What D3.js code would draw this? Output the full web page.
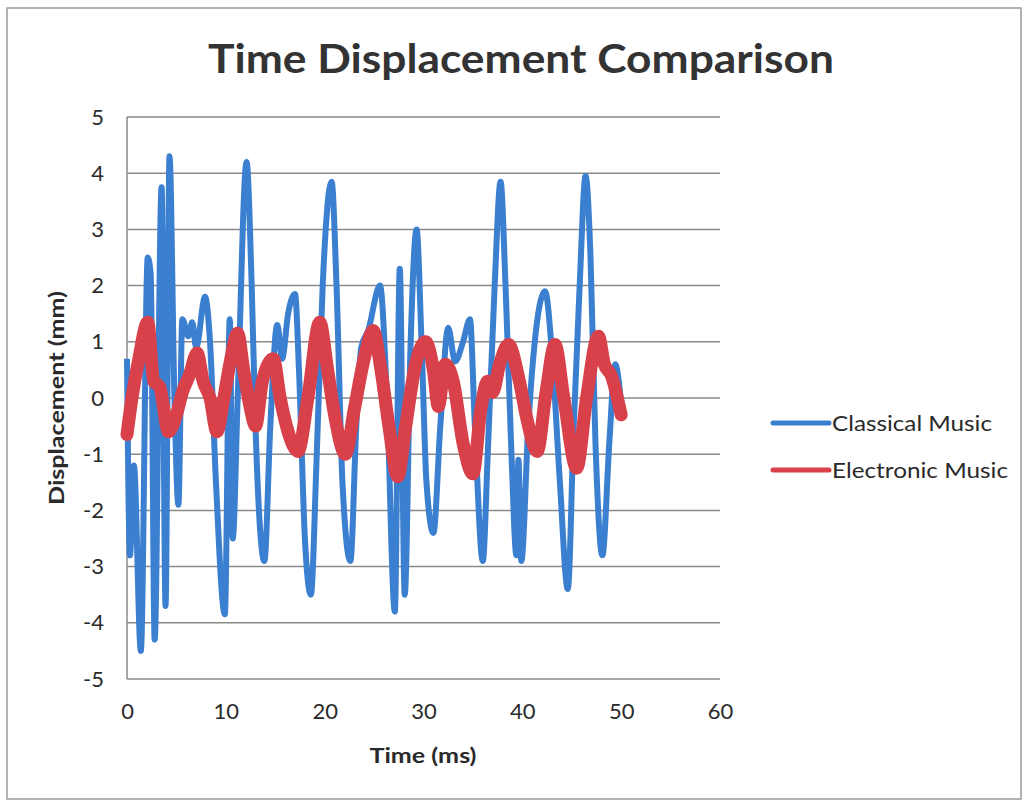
<!DOCTYPE html>
<html><head><meta charset="utf-8">
<script src="https://cdn.jsdelivr.net/npm/d3@7"></script>
<style>body{margin:0;background:#fff;} text{font-family:Lato,"Open Sans",sans-serif;fill:#2a2a2a;}</style>
</head><body>
<svg id="chart" width="1028" height="804"></svg>
<script>
const chartTitle = "Time Displacement Comparison";
const xAxisTitle = "Time (ms)";
const yAxisTitle = "Displacement (mm)";
const seriesNames = ["Classical Music", "Electronic Music"];
const xTicks = [0, 10, 20, 30, 40, 50, 60];
const yTicks = [-5, -4, -3, -2, -1, 0, 1, 2, 3, 4, 5];

const classicalTime = [0,0.3,0.7,1.4,2.1,2.4,2.8,3.5,3.9,4.3,4.8,5.2,5.6,6.2,6.6,7.0,7.9,8.4,9.0,9.9,10.4,10.7,11.2,12.1,12.6,13.0,13.9,14.5,15.2,15.7,16.3,17.0,17.4,18.0,18.6,19.2,19.8,20.7,21.2,21.8,22.6,23.2,23.7,24.4,25.6,26.3,27.1,27.6,28.1,28.7,29.3,29.8,30.3,31.0,31.7,32.5,33.2,34.0,34.7,35.2,36.0,36.5,37.2,37.8,38.3,38.9,39.4,39.6,39.9,40.6,41.2,42.3,43.0,43.8,44.6,45.2,45.8,46.4,46.9,47.4,48.1,48.8,49.4,50.0];
const classicalDisp = [0.7,-2.8,-1.2,-4.5,2.5,2.2,-4.3,3.75,-3.7,4.3,0.0,-1.9,1.4,1.1,1.35,0.9,1.8,1.0,-1.5,-3.85,1.4,-2.5,0.0,4.2,2.1,-0.5,-2.9,-0.5,1.3,0.7,1.5,1.85,0.5,-2.5,-3.5,-1.0,2.0,3.85,2.0,-1.5,-2.9,-0.5,0.9,1.2,2.0,0.0,-3.8,2.3,-3.5,1.0,3.0,1.0,-1.5,-2.4,-0.5,1.25,0.65,1.0,1.4,-0.5,-2.9,-1.0,2.0,3.85,2.0,-1.0,-2.8,-1.1,-2.9,-0.5,0.9,1.9,0.8,-1.5,-3.4,-0.5,2.0,3.95,2.5,-0.8,-2.8,-0.8,0.6,-0.1];

const electronicTime = [0,0.5,1.2,2.1,2.7,3.3,4.2,5.0,5.6,6.3,7.1,7.7,8.4,9.1,9.8,10.4,11.2,11.8,12.5,13.0,13.7,14.8,15.5,16.3,17.3,18.3,19.5,20.3,21.0,22.1,23.0,24.0,24.9,25.7,26.5,27.4,28.2,29.2,30.2,31.0,31.5,32.2,33.0,34.0,35.0,35.8,36.5,37.0,37.7,38.6,39.7,40.5,41.5,42.4,43.3,44.2,45.5,46.5,47.7,48.3,49.0,50.0];
const electronicDisp = [-0.65,0.0,0.7,1.35,0.3,0.2,-0.6,-0.3,0.1,0.4,0.8,0.3,0.0,-0.6,0.0,0.6,1.15,0.5,-0.2,-0.5,0.3,0.7,0.0,-0.6,-0.95,0.0,1.35,0.5,-0.3,-1.0,-0.2,0.7,1.2,0.5,-0.5,-1.4,-0.5,0.6,1.0,0.5,-0.15,0.6,0.3,-0.8,-1.35,-0.2,0.3,0.1,0.6,0.95,0.3,-0.4,-0.95,0.1,0.95,0.0,-1.25,0.0,1.1,0.6,0.4,-0.3];

const colors = ["#3b7fd0", "#d8404a"];
const svg = d3.select("#chart");

// page frame
svg.append("rect").attr("x",7).attr("y",8).attr("width",1014).attr("height",791)
  .attr("fill","none").attr("stroke","#9a9a9a").attr("stroke-width",1.5);

const x = d3.scaleLinear().domain([0,60]).range([127,720]);
const y = d3.scaleLinear().domain([-5,5]).range([679,117]);
const fmt = d => String(d);

// gridlines
svg.append("g").selectAll("line").data(yTicks).join("line")
  .attr("x1",x(0)).attr("x2",x(60)).attr("y1",d=>y(d)).attr("y2",d=>y(d))
  .attr("stroke","#8a8a8a").attr("stroke-width",1.5);
// y axis line
svg.append("line").attr("x1",x(0)).attr("x2",x(0)).attr("y1",y(5)).attr("y2",y(-5))
  .attr("stroke","#8a8a8a").attr("stroke-width",1.5);

// tick labels via axes (no lines)
const yAx = svg.append("g").attr("transform",`translate(${x(0)},0)`)
  .call(d3.axisLeft(y).tickValues(yTicks).tickSize(0).tickPadding(23).tickFormat(fmt));
yAx.select(".domain").remove();
yAx.selectAll("text").style("font-size","22px").style("font-family","Lato, sans-serif").attr("fill","#2a2a2a");

const xAx = svg.append("g").attr("transform",`translate(0,${y(-5)})`)
  .call(d3.axisBottom(x).tickValues(xTicks).tickSize(0).tickPadding(24).tickFormat(fmt));
xAx.select(".domain").remove();
xAx.selectAll("text").style("font-size","22px").style("font-family","Lato, sans-serif").attr("fill","#2a2a2a");

// series
const line = d3.line().x(d=>x(d[0])).y(d=>y(d[1])).curve(d3.curveMonotoneX);
const classical = classicalTime.map((t,i)=>[t, classicalDisp[i]]);
const electronic = electronicTime.map((t,i)=>[t, electronicDisp[i]]);
svg.append("path").datum(classical).attr("d",line).attr("fill","none")
  .attr("stroke",colors[0]).attr("stroke-width",6).attr("stroke-linejoin","round");
svg.append("path").datum(electronic).attr("d",line).attr("fill","none")
  .attr("stroke",colors[1]).attr("stroke-width",13).attr("stroke-linejoin","round").attr("stroke-linecap","round");

// title
svg.append("text").attr("x",521).attr("y",73).attr("text-anchor","middle")
  .style("font-size","40px").style("font-weight","bold").style("fill","#333").attr("textLength",626).attr("lengthAdjust","spacingAndGlyphs")
  .text(chartTitle);
// axis titles
svg.append("text").attr("x",423).attr("y",763).attr("text-anchor","middle")
  .style("font-size","21px").style("font-weight","bold").attr("textLength",107).attr("lengthAdjust","spacingAndGlyphs")
  .text(xAxisTitle);
svg.append("text").attr("transform","translate(64,398) rotate(-90)").attr("text-anchor","middle")
  .style("font-size","20px").style("font-weight","bold").attr("textLength",214).attr("lengthAdjust","spacingAndGlyphs")
  .text(yAxisTitle);

// legend
const legY = [423, 470];
const lg = svg.append("g");
seriesNames.forEach((n,i)=>{
  lg.append("line").attr("x1",773).attr("x2",829).attr("y1",legY[i]).attr("y2",legY[i])
    .attr("stroke",colors[i]).attr("stroke-width",5).attr("stroke-linecap","round");
  lg.append("text").attr("x",832).attr("y",legY[i]+8).style("font-size","22px")
    .attr("textLength", i===0?160:176).attr("lengthAdjust","spacingAndGlyphs").text(n);
});
</script>
</body></html>
